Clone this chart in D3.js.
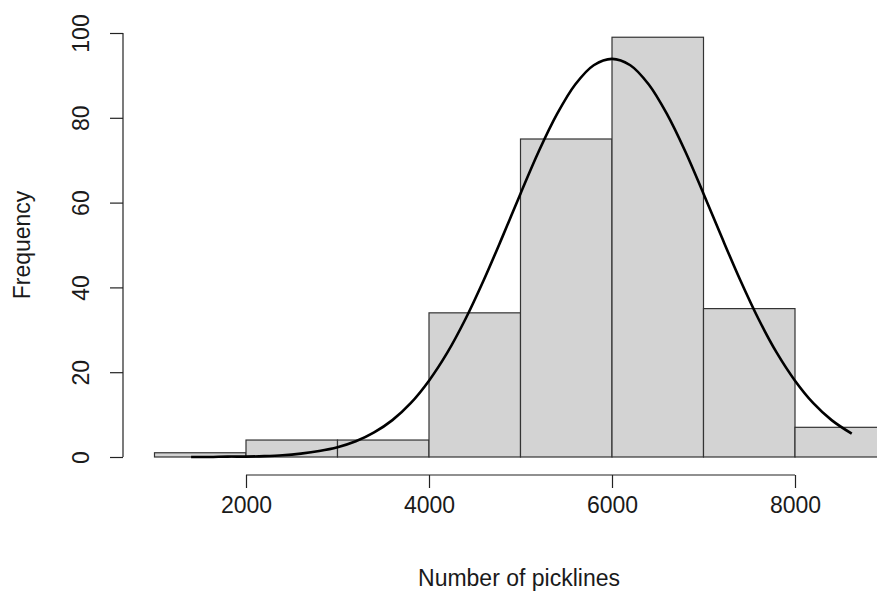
<!DOCTYPE html>
<html>
<head>
<meta charset="utf-8">
<script src="https://cdn.jsdelivr.net/npm/d3@7"></script>
<style>
  body { margin: 0; background: #fff; }
  text { font-family: "Liberation Sans", Arial, sans-serif; fill: #1a1a1a; }
</style>
</head>
<body>
<svg id="chart" width="877" height="591"></svg>
<script>
// histogram bins (lower edge, upper edge) and counts
var binStart = [1000, 2000, 3000, 4000, 5000, 6000, 7000, 8000];
var binEnd   = [2000, 3000, 4000, 5000, 6000, 7000, 8000, 9000];
var counts   = [1, 4, 4, 34, 75, 99, 35, 7];

// overlaid curve
var curveX = [1400, 1600, 1800, 2000, 2200, 2400, 2600, 2800, 3000, 3200, 3400, 3600, 3800,
              4000, 4200, 4400, 4600, 4800, 5000, 5200, 5400, 5600, 5800, 6000, 6200, 6400,
              6600, 6800, 7000, 7200, 7400, 7600, 7800, 8000, 8200, 8400, 8620];
var curveY = [0.0, 0.0, 0.1, 0.1, 0.2, 0.4, 0.8, 1.4, 2.3, 3.7, 5.8, 8.7, 12.7,
              18.0, 24.6, 32.6, 41.8, 51.8, 62.1, 72.1, 80.9, 87.9, 92.4, 93.9, 92.4, 87.9,
              80.9, 72.1, 62.1, 51.8, 41.8, 32.6, 24.6, 18.0, 12.7, 8.7, 5.5];

var xTicks = [2000, 4000, 6000, 8000];
var yTicks = [0, 20, 40, 60, 80, 100];

var svg = d3.select("#chart");

var x = d3.scaleLinear().domain([1000, 9000]).range([154.5, 886.5]);
var y = d3.scaleLinear().domain([0, 100]).range([457, 33]);

// bars
svg.selectAll(".bar")
  .data(counts)
  .enter()
  .append("rect")
  .attr("class", "bar")
  .attr("x", function(d, i) { return x(binStart[i]); })
  .attr("width", function(d, i) { return x(binEnd[i]) - x(binStart[i]); })
  .attr("y", function(d) { return y(d); })
  .attr("height", function(d) { return y(0) - y(d); })
  .attr("fill", "#d3d3d3")
  .attr("stroke", "#333")
  .attr("stroke-width", 1.2);

// curve
var pts = curveX.map(function(v, i) { return [v, curveY[i]]; });
var line = d3.line()
  .x(function(d) { return x(d[0]); })
  .y(function(d) { return y(d[1]); })
  .curve(d3.curveCatmullRom);

svg.append("path")
  .datum(pts)
  .attr("d", line)
  .attr("fill", "none")
  .attr("stroke", "#000")
  .attr("stroke-width", 2.6);

// x axis (R style: line only between first and last tick)
var xAxis = d3.axisBottom(x).tickValues(xTicks).tickSize(13).tickPadding(9)
  .tickFormat(d3.format("d"));
var gx = svg.append("g")
  .attr("transform", "translate(0,475)")
  .call(xAxis);
gx.select(".domain").remove();
gx.append("line")
  .attr("x1", x(xTicks[0])).attr("x2", x(xTicks[xTicks.length - 1]))
  .attr("stroke", "#222").attr("stroke-width", 1.2);
gx.selectAll(".tick line").attr("stroke", "#222").attr("stroke-width", 1.2);
gx.selectAll(".tick text").attr("font-size", "23px").attr("fill", "#1a1a1a")
  .attr("font-family", "Liberation Sans, Arial, sans-serif");

// y axis
var yAxis = d3.axisLeft(y).tickValues(yTicks).tickSize(13).tickFormat(d3.format("d"));
var gy = svg.append("g")
  .attr("transform", "translate(123,0)")
  .call(yAxis);
gy.select(".domain").remove();
gy.append("line")
  .attr("y1", y(yTicks[0])).attr("y2", y(yTicks[yTicks.length - 1]))
  .attr("stroke", "#222").attr("stroke-width", 1.2);
gy.selectAll(".tick line").attr("stroke", "#222").attr("stroke-width", 1.2);
gy.selectAll(".tick text")
  .attr("font-size", "23px").attr("fill", "#1a1a1a")
  .attr("font-family", "Liberation Sans, Arial, sans-serif")
  .attr("x", null).attr("dy", null)
  .attr("text-anchor", "middle")
  .attr("transform", "translate(-34,0) rotate(-90)");

// axis titles
svg.append("text")
  .attr("x", 519)
  .attr("y", 586)
  .attr("text-anchor", "middle")
  .attr("font-size", "23px")
  .text("Number of picklines");

svg.append("text")
  .attr("transform", "translate(30,245) rotate(-90)")
  .attr("text-anchor", "middle")
  .attr("font-size", "23px")
  .text("Frequency");
</script>
</body>
</html>
